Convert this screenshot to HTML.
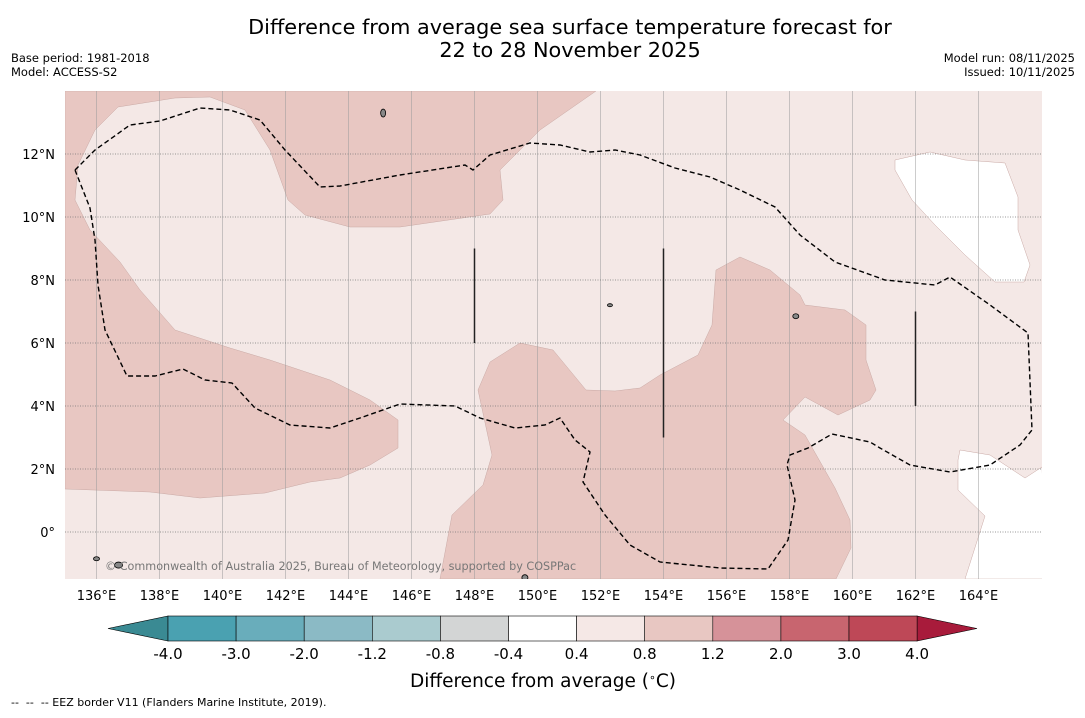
<!DOCTYPE html>
<html><head><meta charset="utf-8"><style>
body{margin:0;background:#fff;font-family:"Liberation Sans",sans-serif}
svg text{font-family:"DejaVu Sans","Liberation Sans",sans-serif}
</style></head><body>
<svg id="s" width="1085" height="713" xmlns="http://www.w3.org/2000/svg">
<text x="570" y="34" font-size="20.8" text-anchor="middle">Difference from average sea surface temperature forecast for</text>
<text x="570" y="57" font-size="20.8" text-anchor="middle">22 to 28 November 2025</text>
<text x="11" y="62" font-size="11.5">Base period: 1981-2018</text>
<text x="11" y="76" font-size="11.5">Model: ACCESS-S2</text>
<text x="1075" y="62" font-size="11.5" text-anchor="end">Model run: 08/11/2025</text>
<text x="1075" y="76" font-size="11.5" text-anchor="end">Issued: 10/11/2025</text>
<defs><clipPath id="mc"><rect x="65" y="91" width="977" height="488"/></clipPath></defs>
<g id="map" clip-path="url(#mc)"></g>
<g id="axes"></g>
<g id="cbar"></g>
<text x="543" y="687" font-size="18.5" text-anchor="middle">Difference from average (<tspan baseline-shift="super" font-size="11">∘</tspan>C)</text>
<text x="11" y="706" font-size="11" xml:space="preserve">--  --  -- EEZ border V11 (Flanders Marine Institute, 2019).</text>
</svg>
<script>
const NS="http://www.w3.org/2000/svg";
const lonTicks=[136,138,140,142,144,146,148,150,152,154,156,158,160,162,164];
const latTicks=[0,2,4,6,8,10,12];
const cbBounds=[-4.0,-3.0,-2.0,-1.2,-0.8,-0.4,0.4,0.8,1.2,2.0,3.0,4.0];
const cbColors=["#4aa1b1","#69adbb","#8bbac5","#aacbcf","#d3d5d5","#ffffff","#f5e8e6","#e8c7c2","#d69299","#c8656f","#be4857"];
const px=[[65,91],[65,489],[150,492],[200,498],[265,493],[310,482],[340,478],[370,465],[398,448],[398,420],[370,400],[330,380],[270,360],[230,348],[175,330],[140,290],[120,262],[90,230],[75,200],[78,165],[95,130],[118,107],[175,98],[210,97],[245,110],[270,150],[288,200],[305,215],[350,227],[400,227],[490,214],[503,200],[500,170],[540,130],[596,91]];
const px2=[[440,579],[452,515],[483,485],[492,455],[478,390],[490,362],[520,343],[553,350],[586,390],[615,391],[640,388],[660,375],[698,355],[712,325],[716,270],[740,257],[770,270],[800,295],[805,305],[845,310],[866,325],[866,360],[876,390],[870,400],[838,415],[805,397],[783,420],[805,435],[835,488],[850,520],[851,548],[836,579]];
const pw1=[[895,160],[930,152],[965,160],[1005,163],[1018,197],[1018,230],[1030,265],[1024,282],[995,282],[965,255],[935,225],[912,200],[895,170]];
const pw2=[[960,450],[990,455],[1025,478],[1042,467],[1046,579],[965,579],[985,516],[958,490],[958,460]];
const pe=[[75,170],[95,150],[130,125],[160,121],[200,108],[230,110],[260,120],[285,150],[320,187],[340,186],[400,175],[465,165],[473,170],[490,155],[530,143],[560,145],[590,152],[615,150],[640,155],[675,168],[710,177],[740,190],[775,207],[800,235],[835,262],[885,280],[935,285],[950,277],[990,305],[1028,333],[1032,430],[1020,445],[990,465],[950,472],[910,465],[880,448],[870,442],[832,434],[808,448],[790,455],[787,465],[795,500],[788,540],[768,569],[720,568],[660,562],[630,545],[605,515],[583,482],[590,452],[575,440],[560,418],[545,425],[515,428],[480,418],[455,406],[400,404],[360,418],[330,428],[290,425],[255,408],[232,383],[205,380],[183,369],[155,376],[127,376],[105,330],[98,285],[95,240],[90,208],[75,170]];
const toLL=a=>a.map(p=>[135+(p[0]-65)/31.5,14-(p[1]-91)/31.5]);
const warmA=toLL(px), warmB=toLL(px2), coolA=toLL(pw1), coolB=toLL(pw2), eez=toLL(pe);
const bars=[[148,6,9],[154,3,9],[162,4,7]];
const X=lon=>65+(lon-135)*31.5, Y=lat=>91+(14-lat)*31.5;
function mk(t,a,p){const e=document.createElementNS(NS,t);for(const k in a)e.setAttribute(k,a[k]);(p||document.getElementById('s')).appendChild(e);return e;}
const pts=a=>a.map(p=>X(p[0]).toFixed(1)+","+Y(p[1]).toFixed(1)).join(" ");
const map=document.getElementById('map'),ax=document.getElementById('axes'),cb=document.getElementById('cbar');
let e=mk('rect',{x:65,y:91,width:977,height:488,fill:"#f4e8e6"},map);

[[warmA,"#e8c7c2","warm-anomaly-region-west"],[warmB,"#e8c7c2","warm-anomaly-region-central"],[coolA,"#ffffff","neutral-region-northeast"],[coolB,"#ffffff","neutral-region-southeast"]].forEach(r=>{
 e=mk('polygon',{points:pts(r[0]),fill:r[1],stroke:"#c9a9a5","stroke-width":0.5},map);
 
});
lonTicks.forEach(l=>{e=mk('line',{x1:X(l),x2:X(l),y1:91,y2:579,stroke:"#999","stroke-width":0.7,"stroke-opacity":0.7},map);
 
 e=mk('text',{x:X(l),y:600,"font-size":13,"text-anchor":"middle"},ax);e.textContent=l+"°E";
 });
latTicks.forEach(l=>{e=mk('line',{x1:65,x2:1042,y1:Y(l),y2:Y(l),stroke:"#777","stroke-width":0.7,"stroke-dasharray":"1,1.5"},map);
 
 e=mk('text',{x:55,y:Y(l)+5,"font-size":13,"text-anchor":"end"},ax);e.textContent=l===0?"0°":l+"°N";
 });
e=mk('polyline',{points:pts(eez),fill:"none",stroke:"#000","stroke-width":1.4,"stroke-dasharray":"5,3"},map);

bars.forEach(b=>{e=mk('line',{x1:X(b[0]),x2:X(b[0]),y1:Y(b[2]),y2:Y(b[1]),stroke:"#222","stroke-width":1.5},map);
 });
const isl=[[145.1,13.3,2.5,4],[158.2,6.85,3,2.5],[136,-0.85,3,2],[136.7,-1.05,4,3],[149.6,-1.45,3,3],[152.3,7.2,2.5,1.5]];
isl.forEach(p=>{e=mk('ellipse',{cx:X(p[0]),cy:Y(p[1]),rx:p[2],ry:p[3],fill:"#888",stroke:"#000","stroke-width":0.8},map);
 });
e=mk('text',{x:105,y:570,"font-size":11.2,fill:"#777"},map);e.textContent="© Commonwealth of Australia 2025, Bureau of Meteorology, supported by COSPPac";

const cx=v=>168+cbBounds.indexOf(v)*68.1;
e=mk('polygon',{points:"108,628.5 168,616 168,641",fill:"#3a8a93",stroke:"#000","stroke-width":0.6},cb);

e=mk('polygon',{points:"977,628.5 917,616 917,641",fill:"#a81b3b",stroke:"#000","stroke-width":0.6},cb);

cbColors.forEach((c,i)=>{const x0=cx(cbBounds[i]),x1=cx(cbBounds[i+1]);
 e=mk('rect',{x:x0,y:616,width:x1-x0,height:25,fill:c,stroke:"#000","stroke-width":0.6},cb);
 });
cbBounds.forEach(v=>{e=mk('text',{x:cx(v),y:659,"font-size":15,"text-anchor":"middle"},cb);e.textContent=v.toFixed(1);
 });
</script>
</body></html>
